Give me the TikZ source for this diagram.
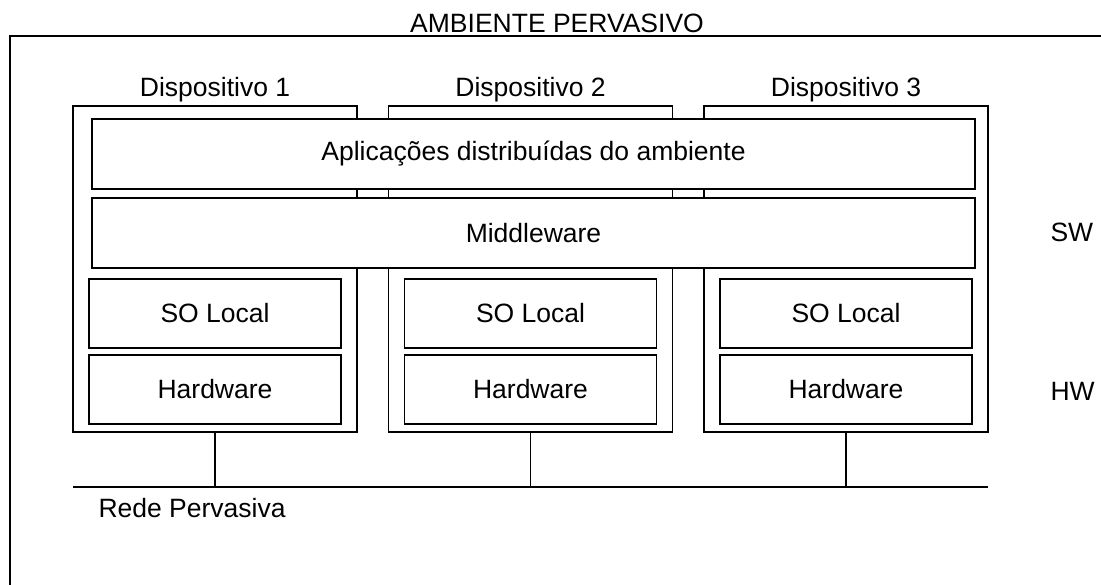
\documentclass[tikz,border=0pt]{standalone}
\usepackage{fontspec}
\setmainfont{Liberation Sans}
\usetikzlibrary{positioning}
\tikzset{txt/.style={font=\fontsize{26.5}{30}\selectfont}}
\tikzset{devbox/.style={draw, line width=1.6pt, outer sep=0pt, inner sep=0pt, minimum width=284pt, minimum height=326pt}}
\tikzset{layer/.style={draw, line width=1.6pt, outer sep=0pt, fill=white, txt, minimum width=883pt, minimum height=70pt}}
\tikzset{oslayer/.style={draw, line width=1.6pt, outer sep=0pt, txt, minimum width=252pt, minimum height=69pt}}
\tikzset{net/.style={draw, line width=1.2pt}}

\begin{document}
\begin{tikzpicture}[x=1pt, y=-1pt]
	\useasboundingbox (0,0) rectangle (1101,585);
	% ambiente
	\draw[line width=1.6pt] (1101,36) -- (10,36) -- (10,585);
	\node[txt, anchor=base] (titulo) at (557,33) {AMBIENTE PERVASIVO};
	% dispositivos
	\foreach \i/\x in {1/215, 2/530.5, 3/846} {
		\node[devbox] (dev\i) at (\x,269) {};
		\node[txt, anchor=base] (lab\i) at ([yshift=9pt]dev\i.north) {Dispositivo \i};
		\node[oslayer, above=8pt of dev\i.south] (hw\i) {Hardware};
		\node[oslayer, above=7pt of hw\i] (so\i) {SO Local};
	}
	\node[layer] (app) at (533.5,154) {Aplica\c{c}\~oes distribu\'idas do ambiente};
	\node[layer, below=9pt of app] (mw) {Middleware};
	\node[txt, anchor=west] (sw) at (1047,232) {SW};
	\node[txt, anchor=west] (hw) at (1047,391) {HW};
	% rede
	\draw[net] ([yshift=-55pt]dev1.south west) coordinate (netL)
		-- ([yshift=-55pt]dev3.south east) coordinate (netR);
	\foreach \i in {1,2,3}
		\draw[net] (dev\i.south) -- (dev\i.south |- netL);
	\node[txt, anchor=base west] (rede) at ([xshift=22pt, yshift=-30pt]netL) {Rede Pervasiva};
\end{tikzpicture}
\end{document}
